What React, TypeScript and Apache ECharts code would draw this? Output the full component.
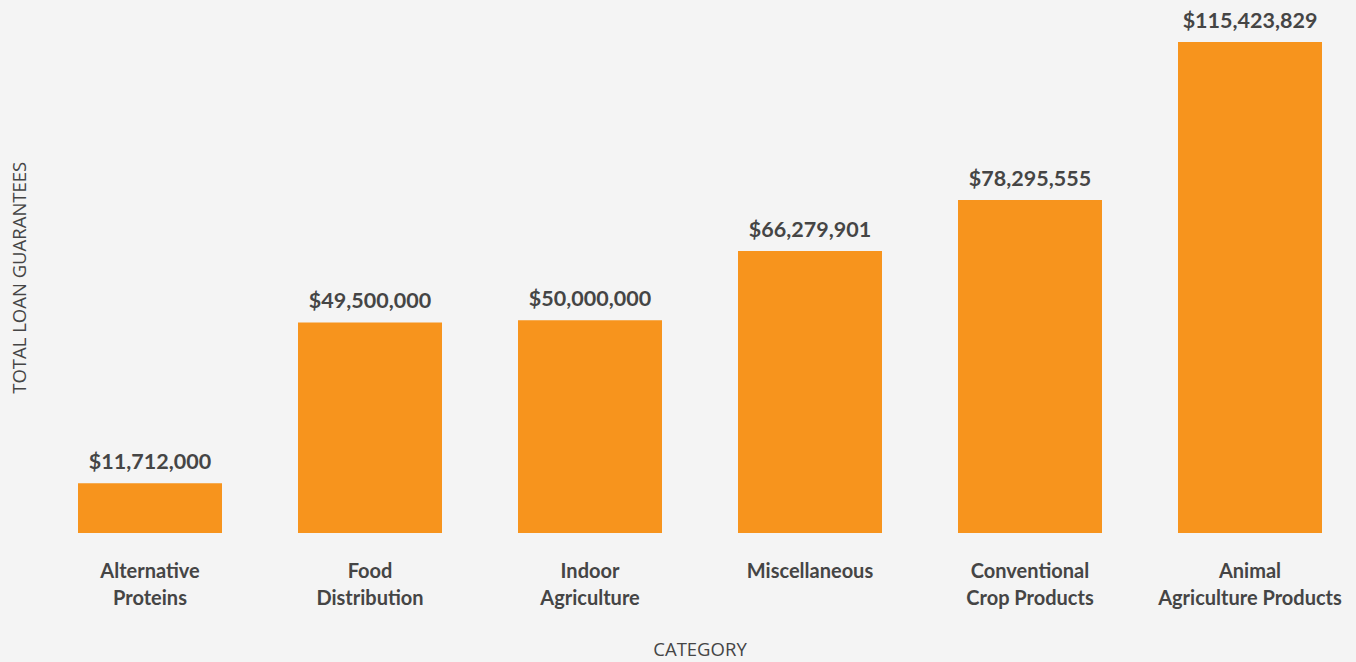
import React, { useEffect, useRef } from "react";
import * as echarts from "echarts";

const categories = [
  "Alternative\nProteins",
  "Food\nDistribution",
  "Indoor\nAgriculture",
  "Miscellaneous",
  "Conventional\nCrop Products",
  "Animal\nAgriculture Products",
];
const values = [11712000, 49500000, 50000000, 66279901, 78295555, 115423829];

const fmt = (v: number) => "$" + v.toLocaleString("en-US");

export default function App() {
  const ref = useRef<HTMLDivElement>(null);
  useEffect(() => {
    if (!ref.current) return;
    const chart = echarts.init(ref.current, undefined, { renderer: "svg" });
    chart.setOption({
      animation: false,
      backgroundColor: "#f4f4f4",
      textStyle: { fontFamily: "Lato" },
      grid: { left: 40, width: 1320, top: 22.5, bottom: 129, outerBoundsMode: "none", containLabel: false },
      xAxis: {
        type: "category",
        data: categories,
        axisLine: { show: false },
        axisTick: { show: false },
        axisLabel: {
          margin: 23,
          fontSize: 20,
          fontWeight: "bold",
          color: "#454545",
          lineHeight: 27,
          verticalAlign: "top",
          interval: 0,
        },
        name: "CATEGORY",
        nameLocation: "middle",
        nameGap: 106,
        nameTextStyle: { fontSize: 18.5, lineHeight: 18, color: "#454545", fontFamily: "Open Sans" },
      },
      yAxis: {
        type: "value",
        min: 0,
        max: 120000000,
        show: true,
        axisLine: { show: false },
        axisTick: { show: false },
        axisLabel: { show: false },
        splitLine: { show: false },
        name: "TOTAL LOAN GUARANTEES",
        nameLocation: "middle",
        nameGap: 13,
        nameRotate: 90,
        nameTextStyle: { fontSize: 18.5, lineHeight: 18, color: "#454545", fontFamily: "Open Sans" },
      },
      series: [
        {
          type: "bar",
          data: values,
          barWidth: 144,
          itemStyle: { color: "#F7941D" },
          label: {
            show: true,
            position: "top",
            distance: 11,
            formatter: (p: any) => fmt(p.value),
            fontSize: 21.5,
            fontWeight: "bold",
            color: "#454545",
          },
        },
      ],
    });
    return () => chart.dispose();
  }, []);
  return (
    <div
      ref={ref}
      style={{ position: "fixed", left: 0, top: 0, width: 1356, height: 662 }}
    />
  );
}
